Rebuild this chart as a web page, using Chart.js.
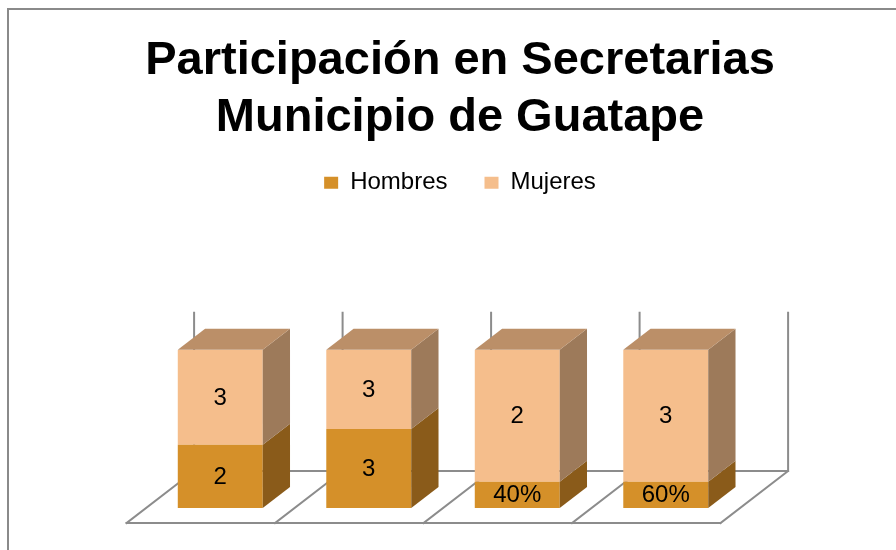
<!DOCTYPE html>
<html><head><meta charset="utf-8">
<script src="https://cdn.jsdelivr.net/npm/chart.js@4.4.1/dist/chart.umd.min.js"></script>
<style>html,body{margin:0;padding:0;background:#fff;} #wrap{width:896px;height:550px;position:relative;}</style>
</head><body><div id="wrap"><canvas id="c"></canvas></div>
<script>
const categories = ['Secretaría 1', 'Secretaría 2', 'Secretaría 3', 'Secretaría 4'];
const hombres = [2, 3, 0.4, 0.6];
const mujeres = [3, 3, 2, 3];
const hombresLabels = ['2', '3', '40%', '60%'];
const mujeresLabels = ['3', '3', '2', '3'];
const seriesNames = ['Hombres', 'Mujeres'];
const titleLines = ['Participación en Secretarias', 'Municipio de Guatape'];

// 100% stacked: share of each category total
const totals = categories.map((_, i) => hombres[i] + mujeres[i]);
const hombresPct = hombres.map((v, i) => v / totals[i] * 100);
const mujeresPct = mujeres.map((v, i) => v / totals[i] * 100);
const segmentLabels = [hombresLabels, mujeresLabels];

const COLORS = { hFront: '#D59029', hSide: '#8A5B1A', mFront: '#F5BE8C', mSide: '#9D7A5A', top: '#BB8F68', line: '#8C8C8C' };
const K = 1.3;          // oblique x shift per pixel of depth
const BAR_DEPTH = 21;
const FLOOR_FRONT = 15;
const FLOOR_BACK = 37;
const FONT = "'Liberation Sans', Arial, sans-serif";

const threeD = {
  id: 'threeD',
  beforeInit(chart) {
    const lg = chart.legend;
    if (lg) {
      const orig = lg.fit.bind(lg);
      lg.fit = function () { orig(); this.height = 216; };
    }
  },
  beforeDraw(chart) {
    const ctx = chart.ctx;
    ctx.save();
    ctx.fillStyle = '#fff';
    ctx.fillRect(0, 0, chart.width, chart.height);
    ctx.strokeStyle = '#8A8A8A';
    ctx.lineWidth = 2;
    ctx.beginPath();
    ctx.moveTo(8, chart.height);
    ctx.lineTo(8, 9);
    ctx.lineTo(chart.width, 9);
    ctx.stroke();
    ctx.restore();
  },
  beforeDatasetsDraw(chart) {
    const xs = chart.scales.x, ys = chart.scales.y, ctx = chart.ctx;
    const y0 = ys.getPixelForValue(0), y1 = ys.getPixelForValue(100);
    const n = categories.length;
    const b = [];
    for (let i = 0; i <= n; i++) b.push(xs.getPixelForValue(i - 0.5));
    const fy = y0 + FLOOR_FRONT, by = y0 - FLOOR_BACK;
    ctx.save();
    ctx.strokeStyle = COLORS.line;
    ctx.lineWidth = 2;
    ctx.lineCap = 'square';
    ctx.beginPath();
    ctx.moveTo(b[0] - K * FLOOR_FRONT, fy); ctx.lineTo(b[n] - K * FLOOR_FRONT, fy);
    ctx.moveTo(b[0] + K * FLOOR_BACK, by); ctx.lineTo(b[n] + K * FLOOR_BACK, by);
    for (let i = 0; i <= n; i++) {
      ctx.moveTo(b[i] - K * FLOOR_FRONT, fy); ctx.lineTo(b[i] + K * FLOOR_BACK, by);
      ctx.moveTo(b[i] + K * FLOOR_BACK, by); ctx.lineTo(b[i] + K * FLOOR_BACK, y1 - FLOOR_BACK);
    }
    ctx.stroke();
    ctx.restore();
  },
  afterDatasetsDraw(chart) {
    const ctx = chart.ctx;
    const D = BAR_DEPTH;
    const nds = chart.data.datasets.length;
    ctx.save();
    for (let d = 0; d < nds; d++) {
      const meta = chart.getDatasetMeta(d);
      const side = d === 0 ? COLORS.hSide : COLORS.mSide;
      meta.data.forEach((el) => {
        const p = el.getProps(['x', 'y', 'base', 'width'], true);
        const left = p.x - p.width / 2, right = p.x + p.width / 2;
        const top = Math.min(p.y, p.base), bottom = Math.max(p.y, p.base);
        ctx.fillStyle = side;
        ctx.beginPath();
        ctx.moveTo(right, top); ctx.lineTo(right + K * D, top - D);
        ctx.lineTo(right + K * D, bottom - D); ctx.lineTo(right, bottom);
        ctx.closePath(); ctx.fill();
        if (d === nds - 1) {
          ctx.fillStyle = COLORS.top;
          ctx.beginPath();
          ctx.moveTo(left, top); ctx.lineTo(left + K * D, top - D);
          ctx.lineTo(right + K * D, top - D); ctx.lineTo(right, top);
          ctx.closePath(); ctx.fill();
        }
      });
    }
    ctx.fillStyle = '#000';
    ctx.font = '24px ' + FONT;
    ctx.textAlign = 'center';
    ctx.textBaseline = 'middle';
    for (let d = 0; d < nds; d++) {
      const meta = chart.getDatasetMeta(d);
      meta.data.forEach((el, i) => {
        const p = el.getProps(['x', 'y', 'base'], true);
        ctx.fillText(segmentLabels[d][i], p.x, (p.y + p.base) / 2 + 1);
      });
    }
    ctx.restore();
  }
};

new Chart(document.getElementById('c'), {
  type: 'bar',
  data: {
    labels: categories,
    datasets: [
      { label: seriesNames[0], data: hombresPct, backgroundColor: COLORS.hFront, borderWidth: 0 },
      { label: seriesNames[1], data: mujeresPct, backgroundColor: COLORS.mFront, borderWidth: 0 }
    ]
  },
  options: {
    responsive: true,
    maintainAspectRatio: false,
    animation: false,
    layout: { padding: { left: 24, right: 0, top: 0, bottom: 42 } },
    datasets: { bar: { categoryPercentage: 1, barPercentage: 0.572 } },
    scales: {
      x: { stacked: true, display: false, offset: true },
      y: {
        stacked: true, min: 0, max: 100, position: 'left',
        ticks: { display: false }, grid: { display: false }, border: { display: false },
        afterFit(s) { s.width = 122; }
      },
      yRight: {
        type: 'linear', min: 0, max: 100, position: 'right',
        ticks: { display: false }, grid: { display: false }, border: { display: false },
        afterFit(s) { s.width = 156; }
      }
    },
    plugins: {
      title: {
        display: true, text: titleLines, color: '#000',
        font: { family: FONT, size: 47, weight: 'bold', lineHeight: 1.2 },
        padding: { top: 33, bottom: -12 }
      },
      legend: {
        display: true, position: 'top',
        labels: {
          color: '#000', boxWidth: 14, boxHeight: 12, padding: 37,
          font: { family: FONT, size: 24 }
        }
      },
      tooltip: { enabled: false }
    }
  },
  plugins: [threeD]
});
</script>
</body></html>
